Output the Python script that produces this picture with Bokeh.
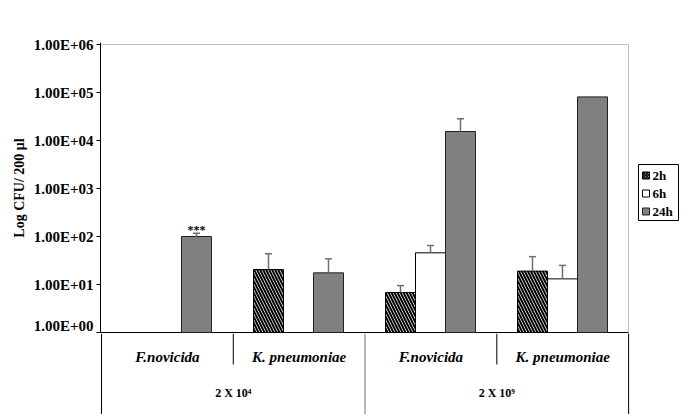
import math
from bokeh.plotting import figure
from bokeh.layouts import column
from bokeh.models import FixedTicker, CustomJSTickFormatter, Range1d
from bokeh.core.properties import value
from bokeh.embed import file_html
from bokeh.resources import INLINE

nan = float("nan")

# ---------------- data ----------------
organisms = ["F.novicida", "K. pneumoniae", "F.novicida", "K. pneumoniae"]
doses = ["2 X 10\u2074", "2 X 10\u2079"]
series = ["2h", "6h", "24h"]
cfu_2h = [nan, 20.5, 6.8, 19.0]
cfu_6h = [nan, nan, 45.7, 13.1]
cfu_24h = [100.0, 17.5, 15400.0, 81000.0]
upper_2h = [nan, 43.6, 9.5, 38.0]
upper_6h = [nan, nan, 65.0, 25.0]
upper_24h = [117.0, 34.3, 28300.0, nan]
significance_24h = ["***", "", "", ""]
tick_values = [1, 10, 100, 1000, 10000, 100000, 1000000]
tick_labels = ["1.00E+00", "1.00E+01", "1.00E+02", "1.00E+03",
               "1.00E+04", "1.00E+05", "1.00E+06"]
y_label = "Log CFU/ 200 \u03bcl"

# ---------------- layout helpers ----------------
W, H = 685, 414
PX_GROUP = 132.0          # pixels per organism group
PX_DEC = 48.0             # pixels per decade
AXIS_X = 100              # page x of the value axis
TOP_Y = 42                # page y of top of upper frame
SPLIT_Y = 333             # page y where the lower (category) panel starts
BOT_LOG = -1 / PX_DEC
TOP_LOG = BOT_LOG + (SPLIT_Y - TOP_Y) / PX_DEC
FONT = "'Liberation Serif', 'Times New Roman', serif"
SERIF = value(FONT)


def lx(px):
    return (px - AXIS_X) / PX_GROUP


def ly(py):
    return 10 ** (TOP_LOG - (py - TOP_Y) / PX_DEC)


BW = 30 / PX_GROUP
X_END = (W - AXIS_X) / PX_GROUP

# ================= upper figure (values) =================
p = figure(width=W, height=SPLIT_Y, output_backend="svg", toolbar_location=None,
           x_range=Range1d(0, X_END),
           y_range=Range1d(10 ** BOT_LOG, 10 ** TOP_LOG),
           y_axis_type="log", x_axis_location=None,
           min_border_left=AXIS_X, min_border_right=0,
           min_border_top=TOP_Y, min_border_bottom=0)
p.outline_line_color = None
p.grid.visible = False
p.background_fill_color = "white"
p.border_fill_color = "white"

ax = p.yaxis[0]
ax.ticker = FixedTicker(ticks=tick_values, minor_ticks=[])
ax.formatter = CustomJSTickFormatter(
    args=dict(vals=tick_values, labs=tick_labels),
    code="""
    for (let i = 0; i < vals.length; i++) {
        if (Math.abs(vals[i] - tick) < 1e-6 * vals[i]) return labs[i];
    }
    return '';
    """)
ax.axis_line_color = "black"
ax.major_tick_line_color = "black"
ax.major_tick_out = 4
ax.major_tick_in = 0
ax.minor_tick_line_color = None
ax.major_label_standoff = 3
ax.major_label_text_font = FONT
ax.major_label_text_font_style = "bold"
ax.major_label_text_font_size = "15px"
ax.major_label_text_color = "black"
ax.axis_label = y_label
ax.axis_label_text_font = FONT
ax.axis_label_text_font_style = "bold"
ax.axis_label_text_font_size = "14px"
ax.axis_label_text_color = "black"
ax.axis_label_standoff = 4

# frame lines (light gray top/right) and baseline
GRAY_FRAME = "#c0c0c0"
p.segment(x0=[0, 4], y0=[1e6, 1], x1=[4, 4], y1=[1e6, 1e6],
          line_color=GRAY_FRAME, line_width=1)
p.segment(x0=[0], y0=[1], x1=[4], y1=[1], line_color="black", line_width=1)

# bars
styles = [
    dict(fill_color="white", hatch_pattern=value("left_diagonal_line"),
         hatch_color="black", hatch_scale=6, hatch_weight=2.0, line_color="black"),
    dict(fill_color="white", line_color="black"),
    dict(fill_color="#808080", line_color="#202020"),
]
vals = [cfu_2h, cfu_6h, cfu_24h]
uppers = [upper_2h, upper_6h, upper_24h]
CAP = 3.5 / PX_GROUP
ERR_COLOR = "#707070"
for k, (v, u, st) in enumerate(zip(vals, uppers, styles)):
    xs, tops = [], []
    for i, val in enumerate(v):
        if not math.isnan(val):
            xs.append(i + 0.5 + (k - 1) * BW)
            tops.append(val)
    p.vbar(x=xs, top=tops, bottom=1, width=BW, line_width=1, **st)
    ex, ey0, ey1 = [], [], []
    for i, (val, up) in enumerate(zip(v, u)):
        if not math.isnan(val) and not math.isnan(up):
            ex.append(i + 0.5 + (k - 1) * BW)
            ey0.append(val)
            ey1.append(up)
    if ex:
        p.segment(x0=ex, y0=ey0, x1=ex, y1=ey1, line_color=ERR_COLOR, line_width=1.5)
        p.segment(x0=[x - CAP for x in ex], y0=ey1, x1=[x + CAP for x in ex], y1=ey1,
                  line_color=ERR_COLOR, line_width=1.5)

# significance stars
sx, sy, st_txt = [], [], []
for i, s in enumerate(significance_24h):
    if s:
        sx.append(i + 0.5 + BW)
        sy.append(upper_24h[i])
        st_txt.append(s)
p.text(x=sx, y=sy, text=st_txt, text_align="center", text_baseline="alphabetic",
       y_offset=-3, text_font=SERIF, text_font_style="bold", text_font_size="12px",
       text_color="black")

# legend (manual)
p.quad(left=[lx(638)], right=[lx(678)], top=[ly(164)], bottom=[ly(220)],
       fill_color="white", line_color="black", line_width=1)
rows = [175, 193, 211]
for k, (name, row) in enumerate(zip(series, rows)):
    st = dict(styles[k])
    if "hatch_scale" in st:
        st["hatch_scale"] = 3
        st["hatch_weight"] = 1.2
    p.quad(left=[lx(642)], right=[lx(649)], top=[ly(row - 3.5)], bottom=[ly(row + 3.5)],
           line_width=1, **st)
p.text(x=[lx(652)] * 3, y=[ly(r) for r in rows], text=series,
       text_align="left", text_baseline="middle", text_font=SERIF,
       text_font_style="bold", text_font_size="13px", text_color="black")

# ================= lower figure (category axis) =================
q = figure(width=W, height=H - SPLIT_Y, output_backend="svg", toolbar_location=None,
           x_range=Range1d(-1 / PX_GROUP, X_END),
           y_range=Range1d(H, SPLIT_Y),
           x_axis_location=None, y_axis_location=None,
           min_border_left=AXIS_X - 1, min_border_right=0,
           min_border_top=0, min_border_bottom=0)
q.outline_line_color = None
q.grid.visible = False
q.background_fill_color = "white"
q.border_fill_color = "white"

# separators: inner (between organisms) short, outer (between doses) full
q.segment(x0=[0, 4], y0=[SPLIT_Y] * 2, x1=[0, 4], y1=[H] * 2,
          line_color="black", line_width=1)
q.segment(x0=[1, 3], y0=[SPLIT_Y] * 2, x1=[1, 3], y1=[364] * 2,
          line_color="black", line_width=1)
q.segment(x0=[2], y0=[SPLIT_Y], x1=[2], y1=[H], line_color="#a0a0a0", line_width=1.5)

q.text(x=[i + 0.5 for i in range(len(organisms))], y=[356] * len(organisms),
       text=organisms, text_align="center", text_baseline="middle",
       text_font=SERIF, text_font_style="bold italic", text_font_size="15px",
       text_color="black")
q.text(x=[1 + 2 * j for j in range(len(doses))], y=[392] * len(doses),
       text=doses, text_align="center", text_baseline="middle",
       text_font=SERIF, text_font_style="bold", text_font_size="12px",
       text_color="black")

layout = column(p, q, spacing=0)
open("out.html", "w").write(file_html(layout, INLINE))
